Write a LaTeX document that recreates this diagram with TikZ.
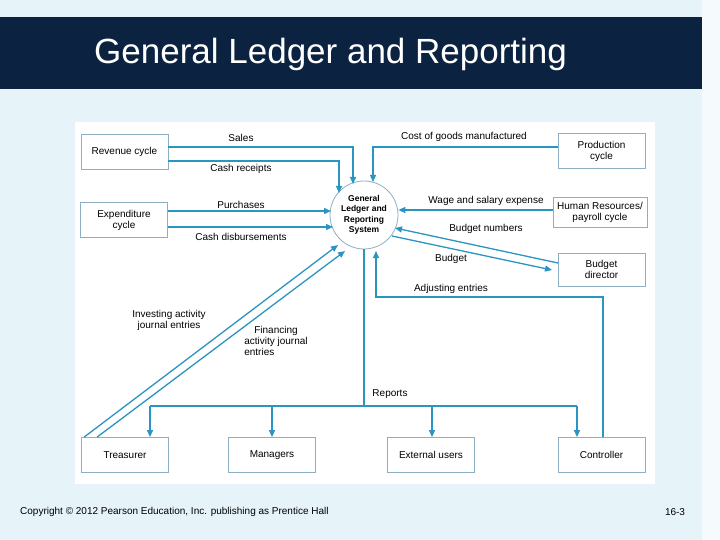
\documentclass[tikz,border=0pt]{standalone}
\usepackage{fontspec}
\setmainfont{Liberation Sans}
\usetikzlibrary{arrows.meta}
\definecolor{bg}{HTML}{E6F3F9}
\definecolor{navy}{HTML}{0B2340}
\definecolor{ln}{HTML}{2B95C2}
\definecolor{bx}{HTML}{8DAFC4}
\begin{document}
\begin{tikzpicture}[x=1pt,y=-1pt,
  box/.style={draw=bx,fill=white,line width=0.8pt,minimum width=87pt,minimum height=35pt,align=center,font=\fontsize{10}{11}\selectfont,inner sep=1pt},
  lab/.style={font=\fontsize{10}{11}\selectfont,align=left,inner sep=1pt},
  fl/.style={draw=ln,line width=1.3pt,-{Triangle[length=7pt,width=6pt]}},
  ln/.style={draw=ln,line width=1.3pt}]
\useasboundingbox (0,0) rectangle (720,540);
\fill[bg] (0,0) rectangle (720,540);
\fill[white!60!bg] (702,0) rectangle (720,540);
\fill[navy] (0,17) rectangle (702,89);
\node[text=white,font=\fontsize{35}{38}\selectfont,anchor=west,inner sep=0pt] (title) at (94,54) {General Ledger and Reporting};
\fill[white] (75,122) rectangle (655,484);
\node[font=\fontsize{10}{11}\selectfont,anchor=west,inner sep=0pt] (copy) at (20,512) {Copyright © 2012 Pearson Education, Inc. publishing as Prentice Hall};
\node[font=\fontsize{10}{11}\selectfont,inner sep=0pt] (pg) at (675,512) {16-3};

\node[box] (rev) at (124.5,152) {Revenue cycle};
\node[box] (exp) at (124,220) {Expenditure\\cycle};
\node[box] (prod) at (601.5,151) {Production\\cycle};
\node[box,minimum width=94pt,minimum height=30pt] (hr) at (600,212.5) {Human Resources/\\payroll cycle};
\node[box,minimum height=33pt] (bud) at (601.5,269.5) {Budget\\director};
\node[box] (tre) at (125,455) {Treasurer};
\node[box] (man) at (272,455) {Managers};
\node[box] (ext) at (431,455) {External users};
\node[box] (con) at (601.5,455) {Controller};
\node[circle,draw=bx,fill=white,line width=0.8pt,minimum size=68pt,align=center,inner sep=0pt,font=\bfseries\fontsize{8.5}{10.5}\selectfont] (gl) at (364,215) {General\\Ledger and\\Reporting\\System};

\coordinate (s1) at (353,147);
\draw[fl] (rev.east |- s1) -- (s1) -- (353,184);
\coordinate (c1) at (339,161);
\draw[fl] (rev.east |- c1) -- (c1) -- (339,193);
\coordinate (g1) at (373,147);
\draw[fl] (prod.west |- g1) -- (g1) -- (373,182);
\draw[fl] (exp.east |- 0,211) -- (331,211);
\draw[fl] (exp.east |- 0,227) -- (333,227);
\draw[fl] (hr.west |- 0,210) -- (gl.east |- 0,210);
\coordinate (bn) at (558,263);
\draw[fl] (bn) -- (395,228);
\coordinate (bb) at (552,270);
\draw[fl] (392,236) -- (bb);
\coordinate (a1) at (603,297);
\coordinate (a2) at (376,297);
\draw[fl] (con.north -| a1) -- (a1) -- (a2) -- (376,251);
\coordinate (r0) at (364,406);
\draw[ln] (gl.south) -- (r0);
\draw[ln] (150,406) -- (577,406);
\draw[fl] (150,406) -- (tre.north -| 150,0);
\draw[fl] (272,406) -- (man.north);
\draw[fl] (432,406) -- (ext.north -| 432,0);
\draw[fl] (577,406) -- (con.north -| 577,0);
\draw[fl] (tre.north west) ++(3,0) coordinate (t1) -- (338,245);
\draw[fl] (tre.north west) ++(16,0) coordinate (t2) -- (345,251);

\node[lab] (l1) at (241,138) {Sales};
\node[lab] (l2) at (241,169) {Cash receipts};
\node[lab] (l3) at (464,137) {Cost of goods manufactured};
\node[lab] (l4) at (241,205) {Purchases};
\node[lab] (l5) at (241,237) {Cash disbursements};
\node[lab] (l6) at (486,201) {Wage and salary expense};
\node[lab] (l7) at (486,229) {Budget numbers};
\node[lab] (l8) at (451,259) {Budget};
\node[lab] (l9) at (451,289) {Adjusting entries};
\node[lab] (l10) at (390,394) {Reports};
\node[lab,align=center] (l11) at (169,320) {Investing activity\\journal entries};
\node[lab] (l12) at (276,341) {\hspace*{1em}Financing\\activity journal\\entries};
\end{tikzpicture}
\end{document}
